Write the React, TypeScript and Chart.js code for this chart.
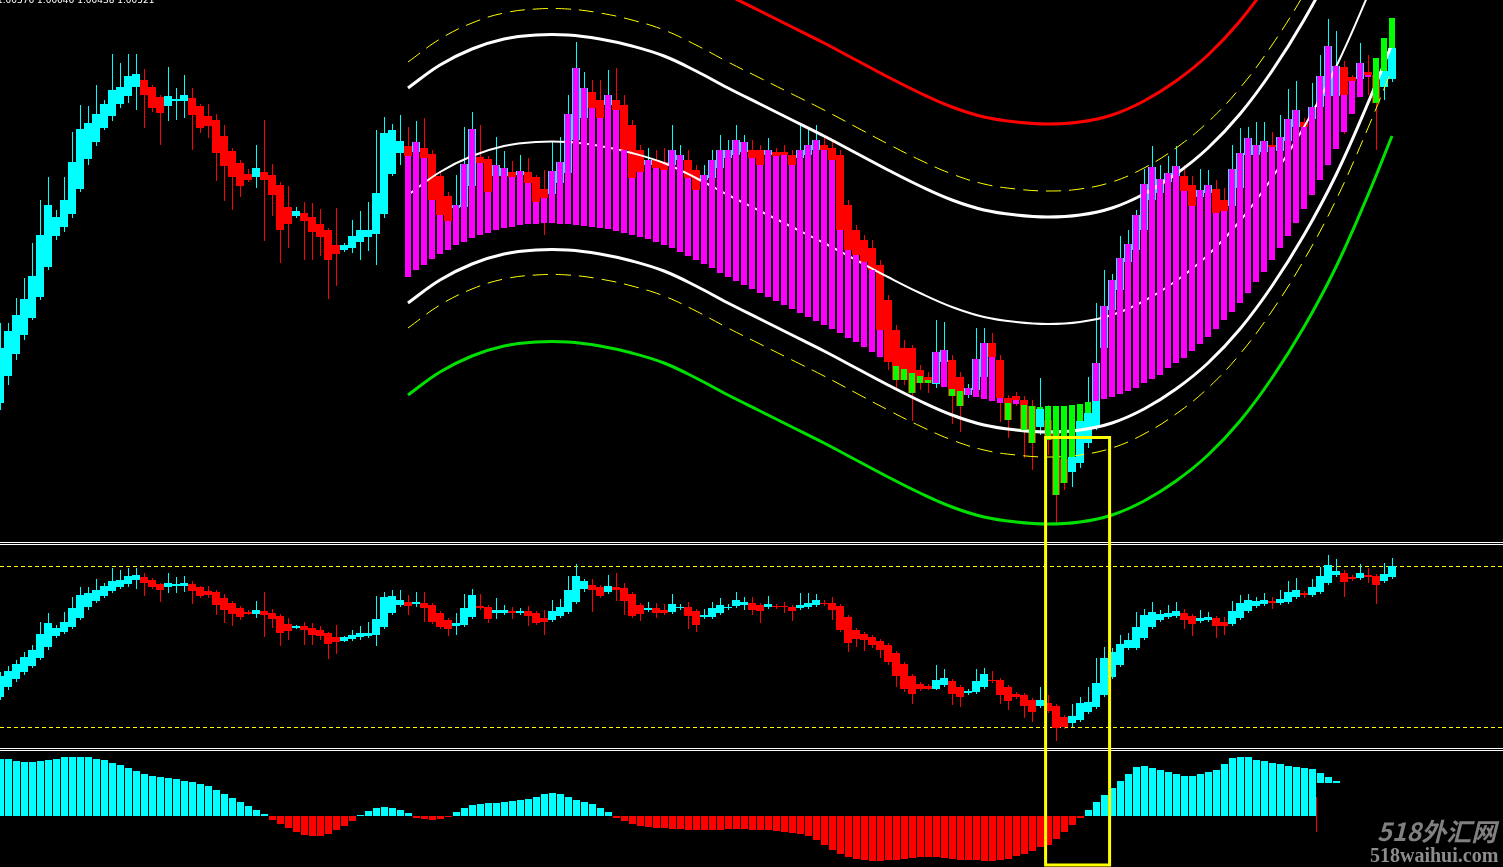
import React, { useEffect, useRef } from "react";
import { Chart, registerables } from "chart.js";

Chart.register(...registerables);

// ---------- texts ----------
const quoteLine = "1.00576 1.00646 1.00438 1.00521";
const watermarkCn = "518外汇网";
const watermarkUrl = "518waihui.com";

// ---------- main panel: price candles (points) ----------
const mainOpen = [
  597, 624, 646, 665, 682, 703, 733, 764, 773, 786,
  811, 841, 858, 872, 884, 896, 904, 913, 920, 913,
  903, 894, 899, 899, 902, 894, 884, 880, 864, 849,
  837, 826, 823, 828, 825, 815, 793, 784, 787, 783,
  776, 770, 755, 750, 752, 758, 763, 766, 786, 826,
  847, 854, 848, 852, 846, 824, 804, 792, 793, 814,
  843, 841, 824, 824, 828, 825, 828, 823, 811, 806,
  817, 827, 860, 882, 908, 900, 895, 900, 895, 875,
  850, 835, 840, 838, 835, 840, 840, 830, 820, 822,
  832, 842, 845, 848, 850, 850, 845, 848, 848, 845,
  842, 845, 850, 855, 852, 845, 795, 770, 760, 752,
  735, 700, 670, 652, 652, 630, 623, 616, 638, 640,
  623, 605, 610, 623, 657, 640, 602, 604, 600, 594,
  573, 580, 570, 541, 528, 537, 557, 573, 652, 690,
  710, 738, 750, 770, 800, 807, 818, 824, 824, 815,
  803, 807, 811, 800, 794, 812, 845, 845, 848, 855,
  849, 859, 873, 878, 881, 893, 904, 904, 933, 923,
  921, 928, 925, 913, 921,
];
const mainHigh = [
  677, 677, 702, 722, 757, 800, 823, 790, 823, 868,
  895, 894, 915, 900, 946, 937, 946, 946, 931, 915,
  905, 933, 912, 925, 912, 896, 896, 886, 875, 852,
  840, 831, 855, 880, 836, 818, 814, 793, 798, 797,
  791, 772, 792, 757, 780, 789, 798, 870, 883, 876,
  885, 873, 879, 882, 850, 828, 808, 825, 873, 888,
  875, 844, 863, 849, 839, 845, 842, 825, 830, 859,
  863, 905, 958, 928, 920, 920, 930, 932, 905, 880,
  855, 852, 850, 852, 875, 855, 850, 835, 835, 850,
  865, 860, 875, 865, 860, 855, 862, 852, 855, 850,
  875, 870, 875, 862, 860, 850, 800, 775, 765, 760,
  740, 705, 675, 660, 655, 635, 628, 680, 678, 645,
  628, 616, 672, 672, 667, 645, 605, 608, 604, 600,
  622, 595, 575, 545, 555, 585, 623, 697, 730, 726,
  764, 770, 790, 831, 854, 835, 844, 854, 835, 824,
  831, 830, 820, 812, 855, 872, 873, 878, 878, 868,
  885, 911, 919, 882, 917, 945, 981, 969, 939, 925,
  957, 945, 940, 934, 960,
];
const mainLow = [
  590, 615, 640, 660, 680, 700, 730, 760, 768, 782,
  808, 835, 854, 870, 879, 892, 897, 890, 872, 888,
  855, 879, 880, 882, 850, 867, 862, 819, 799, 790,
  803, 818, 812, 759, 784, 737, 752, 782, 740, 740,
  744, 701, 714, 748, 747, 740, 749, 735, 782, 824,
  835, 840, 845, 835, 797, 782, 776, 788, 790, 810,
  834, 805, 820, 820, 820, 822, 814, 795, 765, 803,
  814, 824, 857, 878, 882, 870, 890, 875, 835, 818,
  810, 830, 825, 822, 830, 835, 805, 802, 815, 818,
  828, 838, 842, 840, 835, 828, 840, 840, 838, 828,
  838, 840, 845, 845, 835, 765, 738, 738, 720, 718,
  660, 630, 610, 615, 579, 610, 607, 612, 632, 576,
  568, 602, 607, 620, 640, 578, 562, 594, 542, 530,
  565, 545, 477, 510, 513, 532, 552, 570, 648, 685,
  705, 732, 745, 765, 795, 802, 814, 820, 804, 790,
  800, 804, 784, 786, 790, 808, 842, 842, 845, 850,
  846, 855, 870, 870, 878, 890, 900, 900, 866, 910,
  918, 905, 850, 900, 918,
];
const mainClose = [
  652, 669, 685, 701, 724, 765, 795, 783, 800, 838,
  871, 877, 886, 896, 910, 913, 924, 926, 905, 892,
  887, 904, 901, 905, 885, 872, 874, 847, 834, 823,
  814, 820, 832, 820, 805, 770, 776, 789, 779, 768,
  763, 740, 746, 755, 764, 770, 770, 807, 867, 870,
  859, 844, 858, 842, 800, 785, 779, 795, 836, 871,
  837, 808, 835, 832, 823, 829, 817, 798, 802, 829,
  838, 886, 932, 912, 892, 882, 905, 890, 850, 822,
  828, 840, 832, 830, 850, 845, 822, 810, 825, 840,
  850, 850, 860, 858, 842, 835, 850, 844, 845, 835,
  850, 855, 860, 850, 840, 770, 750, 745, 738, 730,
  670, 638, 620, 620, 607, 617, 617, 648, 650, 604,
  594, 612, 641, 657, 643, 602, 580, 600, 570, 557,
  591, 560, 505, 517, 543, 579, 587, 637, 694, 720,
  742, 756, 785, 816, 833, 821, 827, 834, 809, 794,
  810, 815, 787, 789, 831, 847, 862, 855, 859, 853,
  863, 881, 890, 873, 893, 924, 954, 934, 905, 919,
  937, 925, 897, 929, 952,
];

// trend histogram base (starts at bar 51), bar runs from base to close
const trendStart = 51;
const trendBase = [
  723, 730, 735, 741, 746, 750, 755, 758, 762, 765,
  767, 770, 772, 773, 775, 776, 776, 777, 777, 776,
  776, 775, 774, 773, 772, 771, 769, 767, 765, 763,
  761, 758, 755, 752, 748, 744, 740, 736, 732, 727,
  723, 719, 715, 711, 707, 703, 699, 695, 691, 687,
  683, 679, 675, 671, 667, 662, 658, 653, 648, 643,
  638, 634, 631, 627, 624, 620, 617, 613, 611, 609,
  605, 603, 601, 599, 597, 597, 596, 595, 594, 593,
  594, 594, 594, 595, 596, 598, 599, 601, 603, 606,
  609, 612, 617, 621, 625, 632, 637, 642, 649, 656,
  663, 671, 680, 688, 697, 707, 718, 728, 740, 752,
  764, 777, 791, 805, 820, 835, 851, 868, 886, 903,
  923, 942, 962, 982,
];

// regression channel lines, sampled at bar indexes
const bandIndex = [51, 55, 59, 63, 67, 71, 75, 79, 83, 87, 91, 95, 99, 103, 107, 111, 115, 119, 123, 127, 131, 135, 139, 143, 147, 151, 155, 159, 163, 167, 171, 174];
const bandMid = [805, 828, 844, 854, 858, 858, 854, 847, 837, 822, 805, 789, 773, 757, 740, 723, 707, 693, 683, 678, 676, 678, 685, 699, 719, 745, 779, 822, 873, 933, 1005, 1064];
const bandUpper = [912, 935, 951, 961, 965, 965, 961, 954, 944, 929, 912, 896, 880, 864, 847, 830, 814, 800, 790, 785, 783, 785, 792, 806, 826, 852, 886, 929, 980, 1040, 1112, 1171];
const bandLower = [697, 720, 736, 746, 750, 750, 746, 739, 729, 714, 697, 681, 665, 649, 632, 615, 599, 585, 575, 570, 568, 570, 577, 591, 611, 637, 671, 714, 765, 825, 897, 956];
const bandUpperDash = [938, 961, 977, 987, 991, 991, 987, 980, 970, 955, 938, 922, 906, 890, 873, 856, 840, 826, 816, 811, 809, 811, 818, 832, 852, 878, 912, 955, 1006, 1066, 1138, 1197];
const bandLowerDash = [672, 695, 711, 721, 725, 725, 721, 714, 704, 689, 672, 656, 640, 624, 607, 590, 574, 560, 550, 545, 543, 545, 552, 566, 586, 612, 646, 689, 740, 800, 872, 931];
const bandUpperOuter = [1005, 1028, 1044, 1054, 1058, 1058, 1054, 1047, 1037, 1022, 1005, 989, 973, 957, 940, 923, 907, 893, 883, 878, 876, 878, 885, 899, 919, 945, 979, 1022, 1073, 1133, 1205, 1264];
const bandLowerOuter = [605, 628, 644, 654, 658, 658, 654, 647, 637, 622, 605, 589, 573, 557, 540, 523, 507, 493, 483, 478, 476, 478, 485, 499, 519, 545, 579, 622, 673, 733, 805, 864];

// highlighted zone (bar index range and price range)
const zoneFrom = 130.7;
const zoneTo = 138.7;
const zoneTop = 562.5;
const zoneBottom = 135;

// ---------- middle panel: oscillator candles ----------
const oscOpen = [
  303, 313, 321, 328, 334, 342, 353, 364, 368, 373,
  382, 393, 399, 404, 409, 413, 416, 420, 423, 420,
  416, 413, 414, 414, 416, 413, 409, 408, 402, 397,
  392, 388, 386, 389, 387, 384, 376, 372, 374, 372,
  370, 367, 363, 359, 361, 363, 364, 365, 373, 387,
  395, 398, 396, 397, 395, 387, 380, 374, 375, 383,
  394, 393, 387, 387, 389, 387, 389, 387, 382, 380,
  384, 388, 398, 411, 415, 413, 408, 413, 412, 406,
  395, 390, 392, 390, 388, 392, 393, 389, 383, 383,
  387, 392, 394, 395, 397, 395, 393, 394, 394, 393,
  392, 393, 395, 397, 397, 394, 383, 370, 366, 363,
  359, 355, 347, 336, 324, 316, 314, 311, 315, 319,
  313, 307, 308, 313, 320, 320, 313, 306, 305, 300,
  294, 297, 294, 283, 277, 280, 288, 293, 305, 323,
  335, 352, 352, 362, 373, 380, 383, 384, 387, 384,
  379, 380, 382, 378, 376, 382, 389, 394, 396, 399,
  397, 398, 403, 407, 405, 408, 417, 425, 427, 423,
  422, 425, 424, 419, 423,
];
const oscHigh = [
  328, 334, 340, 348, 355, 378, 387, 375, 388, 403,
  413, 413, 421, 417, 432, 430, 432, 432, 427, 422,
  417, 427, 423, 424, 419, 414, 414, 410, 406, 399,
  394, 390, 399, 408, 391, 386, 382, 375, 378, 377,
  374, 368, 375, 364, 370, 374, 378, 404, 408, 410,
  410, 405, 408, 408, 397, 389, 382, 387, 406, 411,
  406, 395, 402, 395, 393, 392, 394, 389, 390, 400,
  401, 424, 436, 421, 421, 415, 425, 427, 417, 408,
  397, 398, 397, 396, 406, 396, 398, 391, 391, 398,
  402, 396, 408, 403, 403, 397, 404, 396, 398, 395,
  407, 407, 406, 400, 403, 396, 385, 372, 368, 365,
  361, 357, 349, 338, 326, 318, 316, 335, 331, 321,
  315, 311, 331, 332, 329, 322, 315, 308, 307, 302,
  313, 305, 296, 285, 296, 303, 313, 342, 353, 352,
  365, 367, 388, 391, 398, 390, 395, 398, 391, 386,
  390, 388, 384, 383, 399, 405, 406, 403, 407, 403,
  410, 419, 422, 409, 421, 433, 445, 441, 430, 425,
  436, 432, 426, 437, 442,
];
const oscLow = [
  300, 310, 318, 325, 332, 340, 350, 362, 366, 371,
  380, 390, 397, 402, 407, 411, 413, 411, 404, 411,
  398, 407, 407, 408, 396, 402, 402, 385, 377, 374,
  380, 385, 382, 363, 372, 354, 360, 371, 355, 355,
  360, 341, 346, 358, 359, 360, 362, 354, 371, 385,
  393, 385, 393, 378, 376, 371, 364, 365, 373, 381,
  390, 377, 381, 385, 381, 385, 374, 375, 365, 378,
  382, 386, 396, 408, 388, 402, 406, 399, 385, 382,
  379, 388, 382, 385, 386, 390, 371, 368, 381, 381,
  385, 390, 392, 390, 385, 377, 391, 391, 387, 379,
  390, 391, 393, 394, 380, 368, 348, 353, 349, 352,
  342, 335, 313, 308, 296, 309, 310, 310, 313, 295,
  293, 305, 306, 311, 317, 296, 290, 301, 282, 278,
  292, 287, 259, 271, 273, 278, 286, 291, 303, 321,
  333, 350, 350, 360, 371, 378, 381, 382, 371, 364,
  377, 378, 362, 365, 374, 380, 387, 392, 394, 391,
  395, 396, 401, 402, 403, 406, 415, 423, 403, 419,
  420, 417, 396, 417, 421,
];
const oscClose = [
  324, 329, 336, 343, 350, 366, 377, 372, 378, 392,
  405, 407, 410, 414, 419, 420, 424, 425, 417, 413,
  410, 417, 416, 417, 409, 404, 405, 395, 390, 386,
  383, 386, 390, 385, 381, 367, 369, 374, 370, 365,
  364, 356, 358, 363, 365, 367, 367, 381, 403, 404,
  400, 394, 398, 392, 378, 373, 371, 377, 392, 405,
  392, 381, 390, 390, 387, 389, 384, 377, 378, 389,
  393, 410, 424, 419, 410, 404, 414, 410, 399, 384,
  386, 392, 387, 387, 396, 393, 384, 375, 385, 392,
  395, 393, 400, 398, 390, 389, 396, 393, 393, 389,
  395, 397, 400, 396, 390, 370, 357, 361, 360, 355,
  350, 338, 324, 311, 306, 311, 311, 320, 322, 306,
  303, 309, 319, 326, 319, 305, 299, 303, 294, 288,
  300, 289, 272, 273, 284, 297, 298, 317, 342, 348,
  356, 360, 373, 385, 388, 386, 387, 389, 380, 376,
  382, 383, 374, 374, 389, 397, 400, 399, 400, 397,
  401, 408, 410, 405, 413, 424, 435, 429, 418, 421,
  427, 423, 415, 426, 434,
];
const oscLevels = [433.5, 272.5];

// ---------- bottom panel: histogram ----------
const histValues = [
  57, 57, 55, 54, 54, 55, 56, 57, 59, 59,
  59, 59, 57, 56, 53, 51, 48, 45, 42, 40,
  39, 38, 37, 35, 34, 32, 30, 26, 22, 18,
  14, 10, 6, 2, -4, -8, -12, -16, -19, -20,
  -20, -18, -14, -10, -5, 1, 5, 8, 9, 8,
  6, 3, -2, -3, -4, -3, -1, 4, 8, 11,
  12, 13, 13, 14, 15, 16, 17, 19, 22, 23,
  22, 19, 16, 14, 12, 8, 4, -2, -5, -8,
  -10, -11, -12, -12, -13, -13, -14, -14, -14, -14,
  -14, -13, -13, -13, -14, -14, -14, -15, -16, -17,
  -18, -20, -24, -29, -34, -38, -41, -43, -44, -45,
  -45, -44, -44, -43, -42, -41, -41, -41, -42, -43,
  -44, -44, -44, -45, -45, -44, -43, -40, -38, -35,
  -31, -29, -23, -16, -9, -2, 6, 14, 21, 28,
  35, 42, 49, 50, 48, 46, 44, 42, 40, 40,
  42, 44, 46, 52, 58, 59, 59, 56, 55, 53,
  52, 50, 49, 48, 47,
];
const histTailIndex = [165, 166, 167];
const histTailLow = [33, 33, 33];
const histTailHigh = [43, 39, 35];
const histSpikeIndex = 164.5;
const histSpike = [-16, 19];

const CYAN = "#00FFFF";
const RED = "#FF0000";
const MAGENTA = "#FF00FF";
const LIME = "#00FF00";
const GREEN_LINE = "#00E000";
const WHITE = "#FFFFFF";
const YELLOW = "#FFFF00";

const W = 1503;
const H = 867;
const BAR_PX = 8;

function candleSets(open: number[], high: number[], low: number[], close: number[], yAxisID: string) {
  const colors = open.map((o, i) => (close[i] >= o ? CYAN : RED));
  return [
    {
      type: "bar",
      data: open.map((o, i) => ({ x: i, y: [o, close[i]] })),
      backgroundColor: colors,
      barThickness: 8,
      grouped: false,
      borderWidth: 0,
      inflateAmount: 0,
      xAxisID: "x",
      yAxisID,
      order: 3,
    },
    {
      type: "bar",
      data: low.map((l, i) => ({ x: i, y: [l, high[i]] })),
      backgroundColor: colors,
      barThickness: 1,
      grouped: false,
      borderWidth: 0,
      inflateAmount: 0,
      xAxisID: "xw",
      yAxisID,
      order: 4,
    },
  ];
}

function bandLine(values: number[], color: string, width: number, dash: number[] = []) {
  return {
    type: "line",
    data: bandIndex.map((k, i) => ({ x: k, y: values[i] })),
    borderColor: color,
    borderWidth: width,
    borderDash: dash,
    pointRadius: 0,
    fill: false,
    tension: 0.4,
    xAxisID: "x",
    yAxisID: "yMain",
    order: 2,
  };
}

const separatorPlugin = {
  id: "panelSeparators",
  beforeDatasetsDraw(chart: any) {
    const ctx = chart.ctx;
    ctx.save();
    ctx.fillStyle = WHITE;
    for (const row of [542, 544, 748, 750]) ctx.fillRect(0, row, chart.width, 1);
    ctx.restore();
  },
};

export default function App() {
  const ref = useRef<HTMLCanvasElement | null>(null);

  useEffect(() => {
    document.documentElement.style.margin = "0";
    document.body.style.margin = "0";
    document.body.style.background = "#000";
    document.body.style.overflow = "hidden";
    if (!ref.current) return;

    const xMax = W / BAR_PX;
    const trendIdx = trendBase.map((_, i) => trendStart + i);
    const trendData = trendIdx.map((k, i) => ({ x: k, y: [trendBase[i], mainClose[k]] }));
    const trendColors = trendIdx.map((k, i) => (mainClose[k] >= trendBase[i] ? MAGENTA : LIME));

    const zonePath = [
      { x: zoneFrom, y: zoneTop },
      { x: zoneTo, y: zoneTop },
      { x: zoneTo, y: zoneBottom },
      { x: zoneFrom, y: zoneBottom },
      { x: zoneFrom, y: zoneTop },
      { x: zoneTo, y: zoneTop },
    ];

    const datasets: any[] = [
      {
        type: "line",
        data: zonePath,
        borderColor: YELLOW,
        borderWidth: 3,
        pointRadius: 0,
        tension: 0,
        fill: false,
        borderJoinStyle: "miter",
        xAxisID: "x",
        yAxisID: "yMain",
        order: 0,
      },
      {
        type: "bar",
        data: trendData,
        backgroundColor: trendColors,
        barThickness: 6,
        grouped: false,
        borderWidth: 0,
        inflateAmount: 0,
        xAxisID: "x",
        yAxisID: "yMain",
        order: 1,
      },
      bandLine(bandMid, WHITE, 2),
      bandLine(bandUpper, WHITE, 3),
      bandLine(bandLower, WHITE, 3),
      bandLine(bandUpperDash, YELLOW, 1, [15, 8]),
      bandLine(bandLowerDash, YELLOW, 1, [15, 8]),
      bandLine(bandUpperOuter, RED, 3),
      bandLine(bandLowerOuter, GREEN_LINE, 3),
      ...candleSets(mainOpen, mainHigh, mainLow, mainClose, "yMain"),
      ...candleSets(oscOpen, oscHigh, oscLow, oscClose, "yOsc"),
      ...oscLevels.map((lv) => ({
        type: "line",
        data: [
          { x: 0, y: lv },
          { x: xMax, y: lv },
        ],
        borderColor: YELLOW,
        borderWidth: 1,
        borderDash: [4, 3],
        pointRadius: 0,
        fill: false,
        xAxisID: "x",
        yAxisID: "yOsc",
        order: 5,
      })),
      {
        type: "bar",
        data: histValues.map((v, i) => ({ x: i, y: [0, v] })),
        backgroundColor: histValues.map((v) => (v >= 0 ? CYAN : RED)),
        barThickness: 7,
        grouped: false,
        borderWidth: 0,
        inflateAmount: 0,
        xAxisID: "xw",
        yAxisID: "yHist",
        order: 3,
      },
      {
        type: "bar",
        data: histTailIndex.map((k, i) => ({ x: k, y: [histTailLow[i], histTailHigh[i]] })),
        backgroundColor: CYAN,
        barThickness: 7,
        grouped: false,
        borderWidth: 0,
        inflateAmount: 0,
        xAxisID: "xw",
        yAxisID: "yHist",
        order: 3,
      },
      {
        type: "bar",
        data: [{ x: histSpikeIndex, y: histSpike }],
        backgroundColor: RED,
        barThickness: 1,
        grouped: false,
        borderWidth: 0,
        inflateAmount: 0,
        xAxisID: "xw",
        yAxisID: "yHist",
        order: 3,
      },
    ];

    const hidden = { display: false, bounds: "data", beginAtZero: false, offset: false, grid: { display: false } };
    const chart = new Chart(ref.current, {
      type: "bar",
      data: { datasets },
      options: {
        responsive: false,
        animation: false,
        devicePixelRatio: 1,
        events: [],
        layout: { padding: 0 },
        plugins: { legend: { display: false }, tooltip: { enabled: false } },
        scales: {
          x: { ...hidden, type: "linear", min: 0, max: xMax },
          xw: { ...hidden, type: "linear", axis: "x", min: -1 / 16, max: xMax - 1 / 16 },
          yMain: { ...hidden, type: "linear", axis: "y", min: 1000 - H, max: 1000 },
          yOsc: { ...hidden, type: "linear", axis: "y", min: 1000 - H, max: 1000 },
          yHist: { ...hidden, type: "linear", axis: "y", min: 816 - H, max: 816 },
        },
      } as any,
      plugins: [separatorPlugin],
    } as any);

    return () => chart.destroy();
  }, []);

  return (
    <div style={{ position: "relative", width: W, height: H, background: "#000", overflow: "hidden" }}>
      <canvas ref={ref} width={W} height={H} style={{ position: "absolute", left: 0, top: 0, width: W, height: H }} />
      <div
        style={{
          position: "absolute",
          left: -3,
          top: -4,
          color: "#FFFFFF",
          font: '9px "DejaVu Sans"',
          lineHeight: "9px",
          whiteSpace: "nowrap",
        }}
      >
        {quoteLine}
      </div>
      <div
        style={{
          position: "absolute",
          left: 1377,
          top: 818,
          color: "#808080",
          font: 'italic bold 25px "Noto Sans CJK SC"',
          lineHeight: "25px",
          whiteSpace: "nowrap",
        }}
      >
        {watermarkCn}
      </div>
      <div
        style={{
          position: "absolute",
          left: 1370,
          top: 845,
          color: "#8C8C8C",
          font: 'bold 20px "Liberation Serif"',
          lineHeight: "20px",
          whiteSpace: "nowrap",
        }}
      >
        {watermarkUrl}
      </div>
    </div>
  );
}
